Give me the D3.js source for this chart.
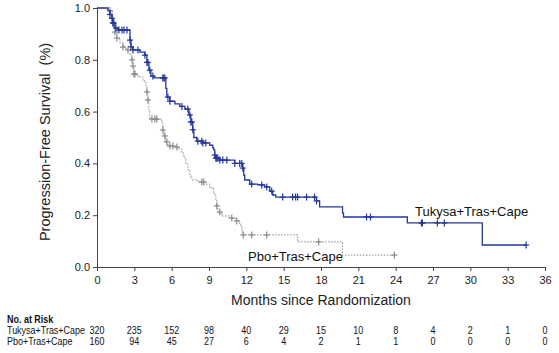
<!DOCTYPE html>
<html>
<head>
<meta charset="utf-8">
<script src="https://cdn.jsdelivr.net/npm/d3@7"></script>
<style>
  body { margin: 0; background: #fff; }
  svg { display: block; font-family: "Liberation Sans", Arial, sans-serif; }
  .axis path, .axis line { stroke: #444; }
  .axis text { fill: #222; font-size: 11px; }
</style>
</head>
<body>
<svg id="chart" width="559" height="353"></svg>
<script>
/* tick labels */
var xTicks = [0, 3, 6, 9, 12, 15, 18, 21, 24, 27, 30, 33, 36];
var yTicks = [0.0, 0.2, 0.4, 0.6, 0.8, 1.0];

/* series names */
var seriesNames = ["Tukysa+Tras+Cape", "Pbo+Tras+Cape"];

/* Tukysa arm: [month, survival] after each drop */
var tukysaSteps = [[0, 1], [0.88, 0.99], [1.04, 0.975], [1.2, 0.96], [1.28, 0.942], [1.44, 0.923], [1.68, 0.915],
  [2.65, 0.876], [2.73, 0.85], [2.89, 0.838], [3.45, 0.83], [3.85, 0.818], [4.01, 0.79], [4.17, 0.76],
  [4.33, 0.737], [4.57, 0.73], [5.53, 0.69], [5.61, 0.656], [5.86, 0.64], [6.26, 0.63], [6.66, 0.62],
  [7.06, 0.61], [7.38, 0.587], [7.54, 0.56], [7.7, 0.53], [7.78, 0.5], [8.02, 0.486], [8.5, 0.479],
  [9.06, 0.47], [9.3, 0.46], [9.38, 0.452], [9.46, 0.432], [9.54, 0.42], [9.86, 0.413], [11.07, 0.4],
  [11.71, 0.382], [11.79, 0.355], [11.87, 0.336], [12.27, 0.32], [12.91, 0.317], [13.47, 0.309],
  [13.88, 0.293], [14.12, 0.278], [14.36, 0.27], [17.64, 0.255], [17.89, 0.232], [19.73, 0.208],
  [19.81, 0.193], [24.94, 0.17], [30.96, 0.085]];
var tukysaEnd = 34.5;
var tukysaCensored = [1.04, 1.2, 1.28, 1.36, 1.52, 1.76, 2.01, 2.17, 2.41, 2.65, 2.73, 2.89, 3.29, 3.85, 4.01,
  4.09, 4.25, 4.49, 5.29, 5.37, 5.45, 5.7, 5.86, 6.82, 7.3, 7.46, 7.54, 7.62, 7.7, 8.1, 8.42, 8.5, 8.74,
  9.46, 9.55, 9.63, 9.71, 9.87, 10.11, 10.43, 11.07, 11.47, 11.63, 11.71, 12.43, 13.24, 13.64, 14.04,
  14.92, 15.72, 15.96, 16.12, 16.84, 17.48, 17.64, 21.66, 21.98, 26.07, 26.15, 27.35, 27.91, 34.49];

/* Placebo arm: [month, survival] after each drop */
var pboSteps = [[0, 1], [0.88, 0.996], [1.04, 0.99], [1.2, 0.973], [1.28, 0.942], [1.36, 0.925], [1.44, 0.907],
  [1.6, 0.884], [1.84, 0.865], [2.09, 0.849], [2.33, 0.838], [2.65, 0.819], [2.81, 0.8], [2.89, 0.776],
  [2.97, 0.745], [3.29, 0.734], [3.69, 0.718], [3.93, 0.7], [4.01, 0.676], [4.09, 0.645], [4.17, 0.606],
  [4.25, 0.571], [5.21, 0.556], [5.29, 0.529], [5.37, 0.506], [5.53, 0.483], [5.7, 0.467], [6.26, 0.463],
  [6.58, 0.456], [6.82, 0.44], [6.98, 0.421], [7.14, 0.398], [7.3, 0.375], [7.46, 0.351], [7.62, 0.336],
  [8.1, 0.328], [8.74, 0.32], [9.06, 0.305], [9.38, 0.282], [9.55, 0.259], [9.63, 0.236], [9.71, 0.212],
  [10.03, 0.197], [10.67, 0.189], [11.15, 0.178], [11.47, 0.162], [11.63, 0.143], [11.71, 0.124],
  [16.12, 0.097], [19.73, 0.046]];
var pboEnd = 23.9;
var pboCensored = [1.04, 1.28, 1.44, 1.6, 2.09, 2.49, 2.81, 2.89, 2.97, 3.05, 4.01, 4.09, 4.41, 4.65, 4.81,
  5.29, 5.45, 5.61, 5.86, 6.1, 6.42, 8.42, 8.58, 9.63, 9.87, 10.83, 11.23, 11.75, 12.43, 13.64, 17.81, 23.9];

/* numbers at risk */
var riskTimes = [0, 3, 6, 9, 12, 15, 18, 21, 24, 27, 30, 33, 36];
var riskTukysa = [320, 235, 152, 98, 40, 29, 15, 10, 8, 4, 2, 1, 0];
var riskPbo = [160, 94, 45, 27, 6, 4, 2, 1, 1, 0, 0, 0, 0];

var svg = d3.select("#chart");

var x = d3.scaleLinear().domain([0, 36]).range([97, 545]);
var y = d3.scaleLinear().domain([0, 1]).range([267, 8]);

/* survival value of a step curve at time t */
function survAt(steps, t) {
  var s = 1;
  for (var i = 0; i < steps.length; i++) {
    if (steps[i][0] <= t) s = steps[i][1];
  }
  return s;
}

/* Axes */
svg.append("g").attr("class", "axis")
  .attr("transform", "translate(0," + y(0) + ")")
  .call(d3.axisBottom(x).tickValues(xTicks).tickSize(4).tickSizeOuter(0).tickFormat(d3.format("d")))
  .call(function (g) { g.selectAll("text").attr("dy", "0.95em"); });

svg.append("g").attr("class", "axis")
  .attr("transform", "translate(" + x(0) + ",0)")
  .call(d3.axisLeft(y).tickValues(yTicks).tickSize(4).tickSizeOuter(0).tickFormat(d3.format(".1f")));

svg.selectAll(".axis .domain").attr("stroke", "#444");

/* Axis titles */
svg.append("text")
  .attr("x", 321).attr("y", 305)
  .attr("text-anchor", "middle")
  .style("font-size", "14px").style("fill", "#222")
  .text("Months since Randomization");

svg.append("text")
  .attr("transform", "translate(50,142) rotate(-90)")
  .attr("text-anchor", "middle")
  .style("font-size", "14.5px").style("fill", "#222")
  .attr("xml:space", "preserve")
  .text("Progression-Free Survival  (%)");

/* Curves */
var line = d3.line()
  .x(function (d) { return x(d[0]); })
  .y(function (d) { return y(d[1]); })
  .curve(d3.curveStepAfter);

function drawArm(steps, end, censored, color, dash, width) {
  var pts = steps.concat([[end, steps[steps.length - 1][1]]]);
  svg.append("path")
    .datum(pts)
    .attr("fill", "none")
    .attr("stroke", color)
    .attr("stroke-width", width)
    .attr("stroke-dasharray", dash)
    .attr("d", line);

  var marks = svg.append("g").selectAll("g").data(censored).enter().append("g")
    .attr("transform", function (t) { return "translate(" + x(t) + "," + y(survAt(steps, t)) + ")"; });
  marks.append("line").attr("x1", 0).attr("x2", 0).attr("y1", -3.5).attr("y2", 3.5)
    .attr("stroke", color).attr("stroke-width", 1.2);
  marks.append("line").attr("x1", -3).attr("x2", 3).attr("y1", 0).attr("y2", 0)
    .attr("stroke", color).attr("stroke-width", 1.2);
}

drawArm(pboSteps, pboEnd, pboCensored, "#8a8a8a", "1.5,1.5", 1);
drawArm(tukysaSteps, tukysaEnd, tukysaCensored, "#23379b", null, 1.3);

/* Curve labels */
svg.append("text").attr("x", 415).attr("y", 216)
  .style("font-size", "13px").style("fill", "#111").text(seriesNames[0]);
svg.append("text").attr("x", 248).attr("y", 261)
  .style("font-size", "13px").style("fill", "#111").text(seriesNames[1]);

/* Number at risk table, condensed type squeezed horizontally */
function narrowText(px, py, str, anchor, bold) {
  return svg.append("text")
    .attr("transform", "translate(" + px + "," + py + ") scale(0.78,1)")
    .attr("text-anchor", anchor)
    .style("font-size", "11.5px")
    .style("font-weight", bold ? "bold" : "normal")
    .style("fill", "#111")
    .text(str);
}

narrowText(7, 323, "No. at Risk", "start", true);

[[riskTukysa, 334], [riskPbo, 345]].forEach(function (row, k) {
  narrowText(7, row[1], seriesNames[k], "start", false);
  row[0].forEach(function (d, i) {
    narrowText(x(riskTimes[i]), row[1], d, "middle", false);
  });
});
</script>
</body>
</html>
